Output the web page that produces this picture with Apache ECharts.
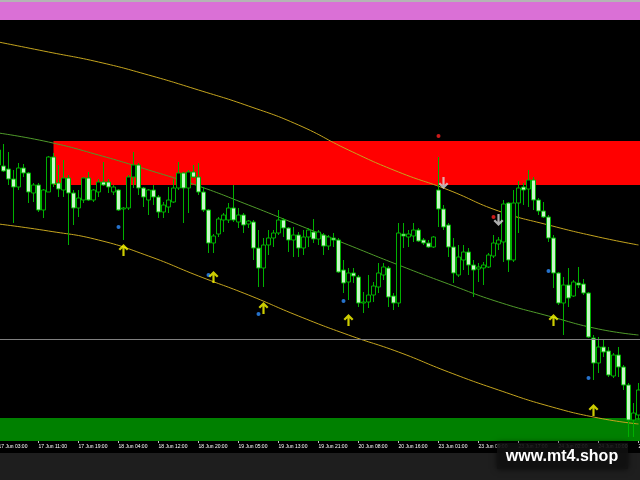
<!DOCTYPE html>
<html>
<head>
<meta charset="utf-8">
<script src="https://cdn.jsdelivr.net/npm/echarts@6/dist/echarts.min.js"></script>
<style>html,body{margin:0;padding:0;background:#000;}#c{width:640px;height:480px;}</style>
</head>
<body>
<div id="c"></div>
<script>
// Time-axis tick labels (one every 8 hourly bars)
const tickLabels = ['17 Jun 03:00','17 Jun 11:00','17 Jun 19:00','18 Jun 04:00','18 Jun 12:00','18 Jun 20:00','19 Jun 05:00','19 Jun 13:00','19 Jun 21:00','20 Jun 08:00','20 Jun 16:00','23 Jun 01:00','23 Jun 09:00','23 Jun 17:00','24 Jun 02:00','24 Jun 10:00','24 Jun 18:00'];

// Hourly OHLC (price points)
const opens = [315,314,311,301,293,312,307,287,295,270, 288,323,297,290,302,287,272,280,302,280, 288,298,298,288,290,271,272,303,315,292, 280,290,283,268,273,278,292,307,292,308, 303,288,270,237,246,260,260,272,258,265, 256,258,232,212,235,242,247,260,252,240, 245,232,243,248,241,245,234,242,240,210, 198,207,203,177,178,185,193,205,212,184, 177,246,243,244,250,240,237,233,290,271, 255,233,205,220,228,215,211,212,213,224, 236,238,277,220,277,293,291,300,280,269, 263,242,207,177,195,184,197,196,187,142, 117,133,129,104,125,113,95,60,65];
const closes = [330,309,301,293,312,307,288,295,270,290, 323,296,291,302,287,272,282,302,280,290, 298,295,293,293,270,272,303,315,292,283, 290,283,268,275,280,292,307,292,308,303, 288,270,237,244,261,265,272,260,265,255, 259,232,212,235,242,247,260,252,240,245, 232,243,250,241,248,234,243,240,208,197, 207,204,177,178,185,194,207,213,183,177, 247,244,246,250,239,237,233,243,271,253, 233,207,223,228,215,210,213,215,225,237, 240,276,220,277,292,290,300,280,269,263, 242,207,177,195,182,198,195,187,143,117, 133,128,105,125,113,95,60,67,90];
const lows = [312,308,295,257,290,303,277,278,268,262, 288,293,283,283,235,255,263,277,279,278, 283,294,287,285,269,240,270,292,285,273, 265,275,262,262,267,277,290,257,267,302, 285,268,227,227,243,248,257,258,252,247, 252,220,193,193,225,233,245,243,228,223, 223,225,233,237,235,225,230,233,207,187, 180,197,173,167,172,178,187,200,173,170, 173,232,233,238,238,235,232,232,253,250, 223,197,203,210,205,183,198,195,212,222, 230,218,208,218,247,275,273,270,265,262, 238,192,175,145,173,183,192,185,142,100, 107,123,103,102,103,90,43,43,60];
const highs = [337,336,328,310,317,316,308,297,297,291, 324,327,315,320,305,290,290,303,308,291, 301,318,301,295,291,273,305,328,317,293, 291,295,285,278,293,301,318,308,310,315, 317,293,271,246,263,267,277,295,272,267, 260,260,250,242,250,250,270,262,253,253, 248,250,252,261,250,247,245,247,242,220, 212,212,205,188,205,198,217,217,214,187, 257,257,250,257,252,242,240,244,323,275, 257,242,235,235,232,220,217,218,227,245, 243,280,278,290,299,297,310,303,282,278, 265,245,208,203,212,200,213,201,188,145, 143,140,133,127,133,115,97,77,97];

// Channel lines sampled at bar indices
const curveBars = [0,10,20,30,40,50,60,70,80,90,100,110,120,128];
const upperBand = [438,428,418,405,390,374,355,330,308,290,269,255,243,235];
const midLine   = [347,338,325,310,294,275,255,235,215,196,178,164,151,145];
const lowerBand = [256,249,240,224,204,185,164,145,128,108,90,74,62,56];

// Signals: [bar index, price]
const buyArrows  = [[25,230],[43,203],[53,172],[70,160],[111,160],[119,70]];
const sellArrows = [[89,297],[100,260]];
const redDots    = [[88,344],[99,263]];
const blueDots   = [[24,253],[42,205],[52,166],[69,179],[110,209],[118,102]];

// Zones / levels
const pinkZone  = [460,478];
const redZone   = [295,339];
const redZoneStartBar = 11;
const greenZone = [39,62];
const grayLevel = 141;

const N = opens.length;
const categories = [];
for (let i = 0; i < N; i++) categories.push(i % 8 === 0 ? tickLabels[i / 8] : 'b' + i);
const candles = opens.map((o, i) => [o, closes[i], lows[i], highs[i]]);
const pts = arr => curveBars.map((b, i) => [b, arr[i]]);

const arrowPath = 'path://M5 0 L10 5 L8.4 6.6 L6.1 4.3 L6.1 12 L3.9 12 L3.9 4.3 L1.6 6.6 L0 5 Z';

const chart = echarts.init(document.getElementById('c'));
chart.setOption({
  backgroundColor: '#000000',
  animation: false,
  grid: { left: -4, right: -1, top: 0, bottom: 39, containLabel: false, outerBoundsMode: 'none' },
  xAxis: [{
    type: 'category', data: categories, boundaryGap: true,
    axisLine: { show: false },
    axisTick: { show: true, interval: 7, alignWithLabel: true, length: 2, lineStyle: { color: '#bbbbbb' } },
    axisLabel: { interval: 7, color: '#ffffff', fontSize: 5, fontFamily: 'Liberation Sans', align: 'left', margin: 3 },
    splitLine: { show: false }
  }, {
    type: 'value', min: -0.5, max: N - 0.5, show: false
  }],
  yAxis: { type: 'value', min: 39, max: 480, show: false, splitLine: { show: false } },
  graphic: [
    { type: 'rect', shape: { x: 0, y: 453, width: 640, height: 27 }, style: { fill: '#1e1e1e' }, z: 100 },
    { type: 'rect', shape: { x: 497, y: 443, width: 131, height: 26 }, style: { fill: 'rgba(18,18,18,0.78)', shadowBlur: 6, shadowColor: 'rgba(0,0,0,0.9)' }, z: 101 },
    { type: 'text', x: 562, y: 457, style: { text: 'www.mt4.shop', fill: '#ffffff', font: 'bold 16px "Liberation Sans", Arial, sans-serif', align: 'center', verticalAlign: 'middle' }, z: 102 }
  ],
  series: [
    {
      type: 'line', xAxisIndex: 1, data: [[-0.5, 39]], symbol: 'none', lineStyle: { opacity: 0 }, z: 1, silent: true,
      markArea: {
        silent: true, label: { show: false },
        data: [
          [{ xAxis: -0.5, yAxis: 478, itemStyle: { color: '#b4b4b4', opacity: 1 } }, { xAxis: N - 0.5, yAxis: 480 }],
          [{ xAxis: -0.5, yAxis: pinkZone[0], itemStyle: { color: '#da70d6', opacity: 1 } }, { xAxis: N - 0.5, yAxis: pinkZone[1] }],
          [{ xAxis: redZoneStartBar, yAxis: redZone[0], itemStyle: { color: '#ff0000', opacity: 1 } }, { xAxis: N - 0.5, yAxis: redZone[1] }],
          [{ xAxis: -0.5, yAxis: greenZone[0], itemStyle: { color: '#008000', opacity: 1 } }, { xAxis: N - 0.5, yAxis: greenZone[1] }]
        ]
      },
      markLine: {
        silent: true, symbol: ['none', 'none'], label: { show: false },
        lineStyle: { color: '#808080', type: 'solid', width: 1 },
        data: [{ yAxis: grayLevel }]
      }
    },
    { type: 'line', xAxisIndex: 1, data: pts(upperBand), smooth: true, symbol: 'none', lineStyle: { color: '#c4a41e', width: 1 }, z: 2 },
    { type: 'line', xAxisIndex: 1, data: pts(midLine), smooth: true, symbol: 'none', lineStyle: { color: '#4f9a2a', width: 1 }, z: 2 },
    { type: 'line', xAxisIndex: 1, data: pts(lowerBand), smooth: true, symbol: 'none', lineStyle: { color: '#c4a41e', width: 1 }, z: 2 },
    {
      type: 'candlestick', xAxisIndex: 0, data: candles, barWidth: 3.6, barMinWidth: 3, z: 3,
      itemStyle: { color: '#000000', color0: '#c8f5c8', borderColor: '#00b000', borderColor0: '#00b000', borderWidth: 1 }
    },
    { type: 'scatter', xAxisIndex: 1, data: blueDots, symbol: 'circle', symbolSize: 4, itemStyle: { color: '#2f8fff' }, z: 4 },
    { type: 'scatter', xAxisIndex: 1, data: redDots, symbol: 'circle', symbolSize: 4, itemStyle: { color: '#ff2020' }, z: 4 },
    { type: 'scatter', xAxisIndex: 1, data: buyArrows, symbol: arrowPath, symbolSize: [10, 12], itemStyle: { color: '#ffff00' }, z: 4 },
    { type: 'scatter', xAxisIndex: 1, data: sellArrows, symbol: arrowPath, symbolRotate: 180, symbolSize: [10, 12], itemStyle: { color: '#d8d8d8' }, z: 4 }
  ]
});
</script>
</body>
</html>
